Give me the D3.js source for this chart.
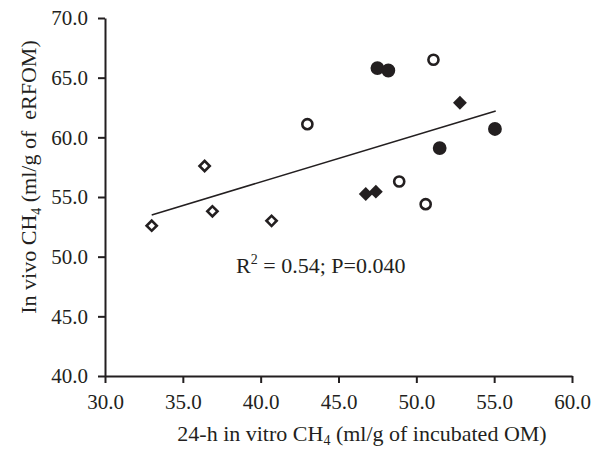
<!DOCTYPE html>
<html>
<head>
<meta charset="utf-8">
<script src="https://cdn.jsdelivr.net/npm/d3@7"></script>
<style>
  body { margin: 0; background: #fff; }
  text { font-family: "Liberation Serif", "DejaVu Serif", serif; fill: #231f20; }
  .axis path, .axis line { stroke: #231f20; stroke-width: 2; }
</style>
</head>
<body>
<svg width="593" height="450"></svg>
<script>
// groups: x = 24-h in vitro CH4, y = in vivo CH4
var openDiamondX = [33.0, 36.4, 36.9, 40.7];
var openDiamondY = [52.6, 57.6, 53.8, 53.0];
var openCircleX = [43.0, 51.1, 48.9, 50.6];
var openCircleY = [61.1, 66.5, 56.3, 54.4];
var filledCircleX = [47.5, 48.2, 55.05, 51.5];
var filledCircleY = [65.8, 65.6, 60.7, 59.1];
var filledDiamondX = [52.8, 46.75, 47.4];
var filledDiamondY = [62.9, 55.25, 55.45];
// regression line end points
var trendX = [33.0, 55.1];
var trendY = [53.5, 62.2];
var xTicks = [30, 35, 40, 45, 50, 55, 60];
var yTicks = [40, 45, 50, 55, 60, 65, 70];

var svg = d3.select("svg"),
    margin = {top: 18, right: 21, bottom: 74, left: 105},
    width = +svg.attr("width") - margin.left - margin.right,
    height = +svg.attr("height") - margin.top - margin.bottom;

var x = d3.scaleLinear().domain([30, 60]).range([0, width]),
    y = d3.scaleLinear().domain([40, 70]).range([height, 0]);

var g = svg.append("g")
    .attr("transform", "translate(" + margin.left + "," + margin.top + ")");

g.append("g")
    .attr("class", "axis")
    .attr("transform", "translate(0," + height + ")")
    .call(d3.axisBottom(x).tickValues(xTicks).tickSize(7).tickSizeOuter(0).tickPadding(11).tickFormat(d3.format(".1f")))
    .call(function(a) { a.selectAll("text").style("font-size", "21px"); });

g.append("g")
    .attr("class", "axis")
    .call(d3.axisLeft(y).tickValues(yTicks).tickSize(7).tickSizeOuter(0).tickPadding(10).tickFormat(d3.format(".1f")))
    .call(function(a) { a.selectAll("text").style("font-size", "21px"); });

// trend line
g.append("path")
    .datum(d3.zip(trendX, trendY))
    .attr("fill", "none")
    .attr("stroke", "#231f20")
    .attr("stroke-width", 1.6)
    .attr("d", d3.line().x(function(d) { return x(d[0]); }).y(function(d) { return y(d[1]); }));

function drawGroup(xs, ys, type, size, rot, filled) {
    g.append("g").selectAll("path")
        .data(d3.zip(xs, ys))
        .enter().append("path")
        .attr("transform", function(d) { return "translate(" + x(d[0]) + "," + y(d[1]) + ") rotate(" + rot + ")"; })
        .attr("d", d3.symbol().type(type).size(size))
        .attr("fill", filled ? "#231f20" : "#fff")
        .attr("stroke", "#231f20")
        .attr("stroke-width", filled ? 0 : 2.6);
}

drawGroup(openDiamondX, openDiamondY, d3.symbolSquare, 52, 45, false);
drawGroup(openCircleX, openCircleY, d3.symbolCircle, 80, 0, false);
drawGroup(filledCircleX, filledCircleY, d3.symbolCircle, 150, 0, true);
drawGroup(filledDiamondX, filledDiamondY, d3.symbolSquare, 96, 45, true);

// annotation
var ann = g.append("text")
    .attr("x", x(43.86))
    .attr("y", y(48.6))
    .attr("text-anchor", "middle")
    .style("font-size", "22px");
ann.append("tspan").text("R");
ann.append("tspan").attr("dy", -9).style("font-size", "14px").text("2");
ann.append("tspan").attr("dy", 9).text(" = 0.54; P=0.040");

// x axis title
var xt = svg.append("text")
    .attr("x", 362)
    .attr("y", 441)
    .attr("text-anchor", "middle")
    .style("font-size", "22px");
xt.append("tspan").text("24-h in vitro CH");
xt.append("tspan").attr("dy", 4).style("font-size", "14px").text("4");
xt.append("tspan").attr("dy", -4).text(" (ml/g of incubated OM)");

// y axis title
var yt = svg.append("text")
    .attr("transform", "translate(36," + 177 + ") rotate(-90)")
    .attr("text-anchor", "middle")
    .attr("xml:space", "preserve")
    .style("font-size", "22px");
yt.append("tspan").text("In vivo CH");
yt.append("tspan").attr("dy", 5).style("font-size", "14px").text("4");
yt.append("tspan").attr("dy", -5).text(" (ml/g of  eRFOM)");
</script>
</body>
</html>
